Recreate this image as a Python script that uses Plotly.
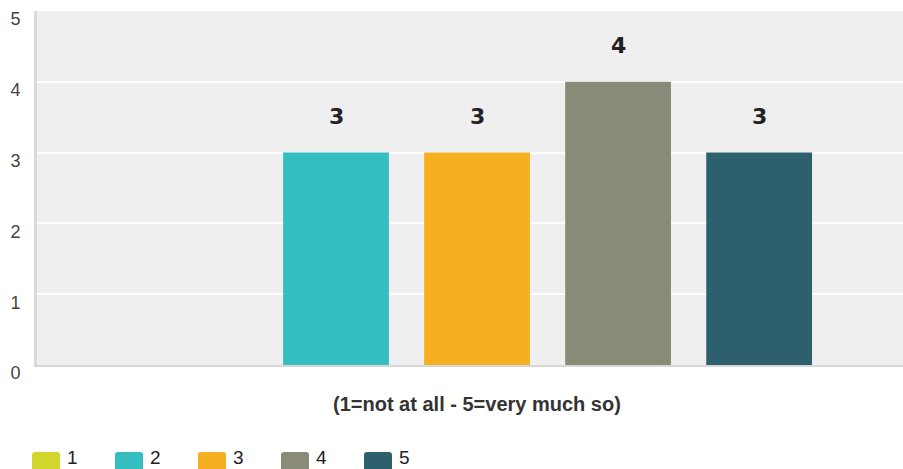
import plotly.graph_objects as go

categories = [1, 2, 3, 4, 5]
series_names = ["1", "2", "3", "4", "5"]
counts = [0, 3, 3, 4, 3]
colors = ["#d2d52b", "#34bec0", "#f6af20", "#898a78", "#2e5f6c"]
y_ticks = [0, 1, 2, 3, 4, 5]
axis_title = "(1=not at all - 5=very much so)"

W, H = 903, 469
ML, MR, MT, MB = 37, 0, 11, 104
plot_w = W - ML - MR
plot_h = H - MT - MB

fig = go.Figure()
for cat, name, val, col in zip(categories, series_names, counts, colors):
    fig.add_trace(go.Bar(
        x=[cat], y=[val], name=name, width=0.75,
        marker=dict(color=col, line=dict(width=0)),
        showlegend=False, hoverinfo="x+y",
    ))

annotations = []
# data labels
for cat, val in zip(categories, counts):
    if val > 0:
        annotations.append(dict(
            x=cat, y=val, xref="x", yref="y", text=str(val), showarrow=False,
            yanchor="middle", xanchor="center", yshift=36,
            font=dict(family="DejaVu Sans", size=22, color="#222222", weight="bold"),
        ))
# axis title
annotations.append(dict(
    x=sum(categories) / len(categories), y=0, xref="x", yref="paper",
    text="<b>" + axis_title + "</b>", showarrow=False,
    yanchor="middle", xanchor="center", yshift=-39,
    font=dict(family="Liberation Sans", size=20, color="#333333"),
))

# manual legend (large swatches)
shapes = []
sw_y = (365 - 462) / plot_h   # paper coordinate of swatch centre
txt_y = (365 - 457) / plot_h  # paper coordinate of legend text centre
sw_w, sw_h, r = 28, 20, 3
step = 83
for i, (name, col) in enumerate(zip(series_names, colors)):
    x_anchor = (32 - ML + i * step) / plot_w
    hw, hh = sw_w, sw_h / 2
    path = (f"M{r},{-hh} L{hw - r},{-hh} Q{hw},{-hh} {hw},{-hh + r} "
            f"L{hw},{hh - r} Q{hw},{hh} {hw - r},{hh} L{r},{hh} Q0,{hh} 0,{hh - r} "
            f"L0,{-hh + r} Q0,{-hh} {r},{-hh} Z")
    shapes.append(dict(
        type="path", xref="paper", yref="paper",
        xsizemode="pixel", ysizemode="pixel",
        xanchor=x_anchor, yanchor=sw_y, path=path,
        fillcolor=col, line=dict(width=0), layer="above",
    ))
    annotations.append(dict(
        x=(66 - ML + i * step) / plot_w, y=txt_y, xref="paper", yref="paper",
        text=name, showarrow=False, xanchor="left", yanchor="middle",
        borderpad=0,
        font=dict(family="Liberation Sans", size=19, color="#222222"),
    ))

fig.update_layout(
    width=W, height=H,
    margin=dict(l=ML, r=MR, t=MT, b=MB, pad=0),
    paper_bgcolor="white", plot_bgcolor="#efefef",
    barmode="overlay", showlegend=False,
    annotations=annotations, shapes=shapes,
    xaxis=dict(range=[-0.12, 6.02], showgrid=False, zeroline=False,
               showticklabels=False, ticks="", showline=True, automargin=False,
               linecolor="#d6d6d6", linewidth=2, fixedrange=True),
    yaxis=dict(range=[0, 5.0001], tickvals=y_ticks, ticktext=[str(t) for t in y_ticks],
               showgrid=True, gridcolor="white", gridwidth=2, zeroline=False,
               showline=True, linecolor="#dadada", linewidth=3, automargin=False,
               ticks="", ticklabelstandoff=10, ticklabelshift=8,
               ticklabeloverflow="allow",
               tickfont=dict(family="Liberation Sans", size=18, color="#444444"),
               fixedrange=True),
)

fig.write_html(
    "out.html",
    config={"displayModeBar": False},
    post_script="document.body.style.margin='0';document.body.style.overflow='hidden';",
)
